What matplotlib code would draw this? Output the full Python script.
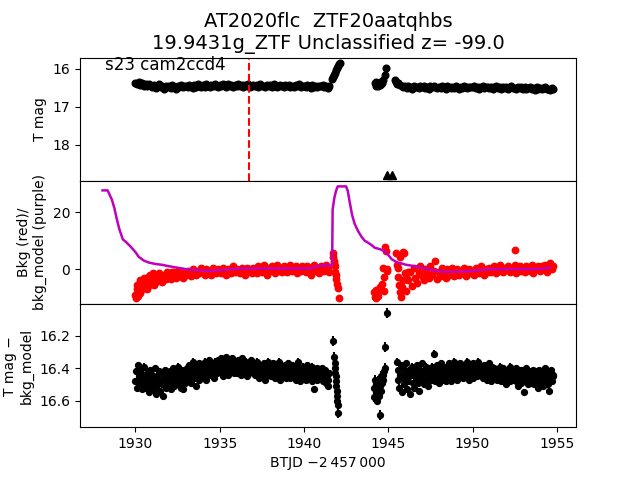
import numpy as np
import matplotlib
matplotlib.use("Agg")
import matplotlib.pyplot as plt

# ---------------- data ----------------
title_text = "AT2020flc  ZTF20aatqhbs\n19.9431g_ZTF Unclassified z= -99.0"
sector_text = "s23 cam2ccd4"
marker_time = 1936.75

# Top panel: T mag (regular cadence segments)
topA_start, topA_step = 1930.0, 0.1
topA_mag = [16.36,16.40,16.34,16.42,16.38,16.44,16.40,16.46,16.41,16.45,
            16.48,16.43,16.50,16.45,16.41,16.49,16.46,16.52,16.44,16.47,
            16.45,16.50,16.43,16.48,16.52,16.44,16.47,16.42,16.49,16.46,
            16.44,16.48,16.42,16.46,16.50,16.43,16.47,16.41,16.45,16.49,
            16.43,16.47,16.41,16.45,16.49,16.42,16.46,16.40,16.44,16.48,
            16.42,16.46,16.40,16.44,16.48,16.41,16.45,16.43,16.47,16.42,
            16.44,16.40,16.46,16.42,16.48,16.43,16.45,16.41,16.47,16.44,
            16.42,16.46,16.43,16.48,16.41,16.45,16.44,16.49,16.42,16.46,
            16.43,16.47,16.41,16.45,16.49,16.44,16.42,16.46,16.48,16.43,
            16.45,16.42,16.47,16.44,16.49,16.43,16.46,16.41,16.48,16.45,
            16.44,16.48,16.42,16.46,16.50,16.43,16.47,16.45,16.49,16.44,
            16.46,16.42,16.48,16.45,16.50,16.44]
topD_start, topD_step = 1945.6, 0.1
topD_mag = [16.36,16.42,16.45,16.48,
            16.44,16.50,16.46,16.48,16.52,16.45,16.49,16.47,16.51,16.46,
            16.48,16.45,16.50,16.47,16.52,16.46,16.49,16.44,16.48,16.51,
            16.47,16.50,16.45,16.49,16.52,16.46,16.48,16.51,16.47,16.50,
            16.46,16.49,16.52,16.47,16.50,16.45,16.48,16.51,16.47,16.49,
            16.48,16.45,16.50,16.47,16.52,16.48,16.46,16.50,16.49,16.47,
            16.50,16.47,16.52,16.48,16.46,16.51,16.49,16.53,16.47,16.50,
            16.48,16.52,16.49,16.46,16.51,16.50,16.53,16.48,16.51,16.49,
            16.52,16.49,16.54,16.50,16.47,16.52,16.51,16.55,16.49,16.53,
            16.50,16.54,16.51,16.48,16.53,16.52,16.56,16.50,16.54]
topB_t = [1941.68,1941.73,1941.78,1941.84,1941.90,1941.96,1942.02,1942.10,1942.15]
topB_mag = [16.27,16.22,16.16,16.10,16.04,15.98,15.93,15.88,15.85]
topC_t = [1944.20,1944.25,1944.30,1944.35,1944.40,1944.45,1944.50,1944.55,1944.60,
          1944.65,1944.70,1944.78,1944.85,1945.40,1945.45,1945.50,1945.55]
topC_mag = [16.38,16.44,16.35,16.41,16.46,16.37,16.43,16.40,16.33,
            16.38,16.28,16.16,15.98,16.30,16.34,16.40,16.38]
lim_t = [1944.9, 1945.25]
lim_mag = [18.8, 18.8]

# Middle panel: background (red points) and background model (purple line)
bkgA_start, bkgA_step = 1930.0, 0.1
bkgA = [-9.0,-5.5,-8.0,-4.0,-6.5,-3.0,-5.0,-7.0,-2.5,-4.5,
        -3.5,-5.5,-2.0,-4.0,-1.5,-3.0,-4.5,-2.0,-3.5,-1.0,
        -2.5,-3.5,-1.0,-2.0,-3.0,-0.5,-2.5,-1.5,-3.0,-1.0,
        -2.0,-0.5,-1.5,-2.5,0.0,-1.0,-2.0,-0.5,-1.5,0.5,
        -1.0,-2.0,0.0,-1.5,-0.5,-2.0,0.5,-1.0,-1.5,0.0,
        -0.5,-1.5,0.5,-1.0,-2.0,0.0,-0.5,-1.5,1.0,-1.0,
        0.0,-1.0,-1.5,0.5,-0.5,-2.0,0.5,-1.0,0.0,-1.5,
        0.5,-0.5,-1.5,1.0,0.0,-1.0,1.5,-0.5,-2.0,0.5,
        -0.5,1.0,0.0,-1.5,1.5,-0.5,0.5,-1.0,1.0,0.0,
        -1.0,0.5,1.5,-0.5,0.0,1.0,-1.5,0.5,-0.5,1.0,
        0.0,-1.0,1.0,0.5,-2.0,0.0,1.5,-0.5,0.5,-1.5,
        1.0,0.0,-0.5,1.5,0.5,-1.0]
bkgA_extra_t = [1930.05,1930.10,1930.15,1930.20,1930.25,1930.30,1930.35,1930.45,1930.55,1930.65,
                1930.75,1930.85,1930.95,1931.05,1931.25,1931.45,1931.65,1931.85,1932.10,1932.30]
bkgA_extra = [-10.0,-7.0,-9.5,-6.0,-8.5,-4.5,-7.5,-6.0,-5.0,-3.5,
              -6.0,-2.0,-4.0,-1.5,-4.5,-2.5,-3.0,-1.5,-2.0,-1.0]
bkgD_start, bkgD_step = 1946.2, 0.1
bkgD = [-4.0,-1.0,-6.0,0.5,-3.0,-5.0,-1.5,1.0,
        -2.5,-4.0,0.0,-1.5,-3.0,1.0,-2.0,-0.5,2.8,-3.5,
        -1.0,-2.5,0.5,-1.5,-3.0,0.0,-2.0,-1.0,0.5,-2.5,
        -1.5,0.0,-2.0,-0.5,-1.0,0.5,-2.5,-1.0,0.0,-1.5,
        -0.5,-2.0,0.5,-1.0,-1.5,1.0,-0.5,-2.0,0.0,-1.0,
        0.5,-1.0,-0.5,1.0,-1.5,0.0,1.5,-0.5,-1.0,0.5,
        0.0,1.0,-1.0,0.5,-0.5,1.5,-1.5,0.0,1.0,-0.5,
        0.5,-1.0,1.0,0.0,-0.5,1.5,-1.5,0.5,0.0,1.0,
        -0.5,1.0,0.0,1.5,-1.0,0.5,2.0,0.0,1.0]
bkgB_t = [1941.72,1941.75,1941.78,1941.80,1941.82,1941.85,1941.88,1941.90,1941.95,1942.00,1942.08]
bkgB = [5.5,4.3,3.0,2.0,1.0,-0.9,-2.1,-3.3,-5.4,-6.5,-10.3]
bkgC_t = [1944.15,1944.20,1944.25,1944.30,1944.35,1944.40,1944.45,1944.50,1944.60,1944.70,
          1944.72,1944.75,1944.80,1944.85,1944.90,1944.92,
          1945.45,1945.50,1945.55,1945.60,1945.65,1945.70,1945.72,1945.75,1945.80,1945.85,
          1945.90,1945.95,1946.00,1946.05,1946.10,1946.15,1952.50]
bkgC = [-8.0,-9.8,-7.5,-10.0,-8.8,-9.5,-7.0,-6.3,-5.3,0.4,
        -2.7,-7.7,7.8,6.5,0.0,-0.5,
        5.5,1.4,0.5,-2.7,-5.6,4.2,-7.9,-9.7,-6.2,6.1,
        -3.9,5.7,-1.5,-7.7,-3.6,-1.0,6.9]

model_t = [1928.05,1928.35,1928.60,1928.75,1928.90,1929.05,1929.25,1929.45,1929.70,1930.00,
           1930.20,1930.50,1930.80,1931.20,1931.60,1932.00,1932.50,1933.00,1933.50,1934.00,
           1934.50,1935.00,1935.50,1936.00,1937.00,1938.00,1939.00,1940.00,1940.50,1940.70,
           1941.00,1941.50,1941.67,1941.70,1941.80,1941.90,1942.00,1942.50,1942.60,1942.70,
           1942.85,1943.00,1943.20,1943.40,1943.60,1943.80,1944.00,1944.20,1944.40,1944.60,
           1944.80,1945.00,1945.20,1945.40,1945.60,1945.80,1946.00,1946.40,1946.80,1947.20,
           1947.60,1948.00,1948.40,1949.00,1949.50,1950.00,1950.50,1951.00,1951.50,1952.00,
           1953.00,1954.00,1954.30,1954.60]
model_v = [27.7,27.7,24.5,21.5,17.5,14.0,10.5,9.5,8.0,6.0,
           4.3,3.0,2.3,1.8,1.5,1.0,0.5,0.0,-0.3,-0.6,
           -0.6,-0.4,-0.1,0.1,0.2,0.2,0.2,0.2,0.3,1.0,
           1.2,1.3,1.3,21.0,25.0,27.5,29.1,29.1,27.5,24.0,
           19.2,16.0,13.5,11.5,10.0,9.3,8.5,7.5,7.2,6.8,
           6.2,5.0,3.5,2.8,2.2,2.0,1.6,1.2,0.7,0.2,
           -0.3,-0.8,-0.9,-0.9,-0.8,-0.6,-0.3,0.0,0.0,0.0,
           0.0,0.0,0.3,0.6]

# Bottom panel: T mag - bkg_model
botA_start, botA_step = 1930.0, 0.05
botA = [16.48,16.42,16.52,16.38,16.45,16.50,16.41,16.47,16.53,16.44,16.39,16.49,16.46,16.52,16.43,16.48,16.55,16.41,16.47,16.50,
        16.44,16.53,16.47,16.40,16.51,16.56,16.45,16.49,16.42,16.54,16.48,16.43,16.50,16.57,16.46,16.41,16.52,16.48,16.44,16.51,
        16.47,16.42,16.53,16.45,16.49,16.40,16.51,16.46,16.43,16.50,16.44,16.39,16.48,16.45,16.52,16.41,16.53,16.46,16.42,16.49,
        16.44,16.40,16.47,16.38,16.45,16.42,16.49,16.41,16.36,16.46,16.43,16.39,16.51,16.44,16.40,16.47,16.37,16.43,16.41,16.45,
        16.39,16.44,16.36,16.42,16.47,16.38,16.41,16.35,16.44,16.40,16.37,16.43,16.39,16.46,16.36,16.41,16.38,16.43,16.35,16.40,
        16.37,16.42,16.34,16.40,16.45,16.36,16.39,16.33,16.41,16.38,16.44,16.35,16.40,16.37,16.42,16.34,16.39,16.43,16.36,16.40,
        16.38,16.43,16.35,16.40,16.37,16.44,16.39,16.34,16.41,16.38,16.42,16.36,16.45,16.39,16.37,16.43,16.40,16.35,16.41,16.38,
        16.42,16.37,16.44,16.40,16.36,16.43,16.39,16.46,16.41,16.38,16.44,16.40,16.37,16.43,16.47,16.39,16.42,16.36,16.44,16.41,
        16.39,16.45,16.41,16.37,16.43,16.40,16.46,16.38,16.42,16.44,16.36,16.41,16.47,16.39,16.43,16.40,16.45,16.38,16.42,16.46,
        16.41,16.37,16.44,16.40,16.46,16.42,16.38,16.45,16.43,16.39,16.47,16.41,16.44,16.36,16.42,16.48,16.40,16.43,16.45,16.39,
        16.44,16.41,16.47,16.38,16.43,16.46,16.40,16.44,16.42,16.48,16.39,16.45,16.53,16.41,16.44,16.47,16.40,16.43,16.46,16.42,
        16.45,16.40,16.48,16.43,16.46,16.41,16.49,16.44,16.47,16.51,16.43]
botD_start, botD_step = 1945.5, 0.05
botD = [16.36,16.47,16.41,16.52,16.44,16.38,16.55,16.46,16.40,16.50,16.43,16.37,16.53,16.45,16.48,16.41,16.56,16.44,16.39,16.49,
        16.43,16.52,16.40,16.46,16.38,16.49,16.44,16.54,16.41,16.47,16.37,16.45,16.50,16.42,16.48,16.39,16.44,16.51,16.40,16.46,
        16.42,16.47,16.39,16.44,16.31,16.48,16.41,16.45,16.38,16.43,16.49,16.40,16.46,16.37,16.42,16.47,16.39,16.44,16.41,16.48,
        16.40,16.45,16.37,16.43,16.48,16.39,16.42,16.46,16.36,16.41,16.44,16.38,16.47,16.40,16.43,16.37,16.45,16.41,16.39,16.46,
        16.42,16.38,16.45,16.40,16.36,16.43,16.47,16.39,16.44,16.41,16.37,16.46,16.40,16.43,16.38,16.45,16.42,16.36,16.44,16.40,
        16.43,16.39,16.46,16.41,16.38,16.44,16.40,16.47,16.42,16.37,16.45,16.41,16.48,16.39,16.43,16.46,16.40,16.44,16.42,16.47,
        16.41,16.46,16.43,16.39,16.48,16.44,16.40,16.47,16.42,16.45,16.50,16.41,16.46,16.43,16.39,16.48,16.44,16.42,16.47,16.45,
        16.43,16.48,16.40,16.46,16.51,16.42,16.45,16.49,16.41,16.47,16.44,16.55,16.43,16.48,16.40,16.46,16.50,16.42,16.45,16.49,
        16.44,16.47,16.41,16.50,16.45,16.42,16.48,16.44,16.52,16.41,16.46,16.49,16.43,16.47,16.51,16.44,16.40,16.48,16.45,16.50,
        16.43,16.54,16.46,16.41,16.48,16.45,16.44]
bot_err = 0.02
botB_t = [1941.72,1941.80,1941.82,1941.84,1941.86,1941.88,1941.90,1941.92,1941.94,1941.96,1941.98,1942.00,1942.04]
botB = [16.23,16.33,16.37,16.40,16.43,16.45,16.48,16.51,16.54,16.57,16.60,16.63,16.68]
botC_t = [1944.15,1944.18,1944.22,1944.26,1944.30,1944.34,1944.38,1944.42,1944.46,1944.50,
          1944.54,1944.58,1944.62,1944.66,1944.70,1944.74,1944.78,1944.52,1944.82,1944.95]
botC = [16.52,16.58,16.47,16.55,16.50,16.60,16.53,16.48,16.57,16.51,
        16.45,16.54,16.49,16.44,16.47,16.42,16.40,16.69,16.27,16.06]
bot_err_gap = 0.03


def grid(start, step, vals):
    return start + step * np.arange(len(vals))


# ---------------- plot ----------------
fig, axes = plt.subplots(3, 1, sharex=True, figsize=(6.4, 4.8), dpi=100)
fig.subplots_adjust(hspace=0)
ax1, ax2, ax3 = axes

ms = 4.8
ax1.plot(grid(topA_start, topA_step, topA_mag), topA_mag, 'ko', ms=ms, ls='none')
ax1.plot(grid(topD_start, topD_step, topD_mag), topD_mag, 'ko', ms=ms, ls='none')
ax1.plot(topB_t, topB_mag, 'ko', ms=ms, ls='none')
ax1.plot(topC_t, topC_mag, 'ko', ms=ms, ls='none')
ax1.plot(lim_t, lim_mag, 'k^', ms=6, ls='none')
ax1.axvline(marker_time, color='r', ls='--', lw=1.5)
ax1.invert_yaxis()
ax1.set_ylabel("T mag")
ax1.text(0.05, 0.9, sector_text, transform=ax1.transAxes, fontsize=12)
ax1.set_title(title_text, fontsize=14)

rms = 4.6
ax2.plot(model_t, model_v, color='m', lw=1.8, zorder=3)
ax2.plot(grid(bkgA_start, bkgA_step, bkgA), bkgA, 'ro', ms=rms, ls='none')
ax2.plot(bkgA_extra_t, bkgA_extra, 'ro', ms=rms, ls='none')
ax2.plot(grid(bkgD_start, bkgD_step, bkgD), bkgD, 'ro', ms=rms, ls='none')
ax2.plot(bkgB_t, bkgB, 'ro', ms=rms, ls='none')
ax2.plot(bkgC_t, bkgC, 'ro', ms=rms, ls='none')
ax2.set_ylabel("Bkg (red)/\nbkg_model (purple)")

bms = 4.2
ax3.errorbar(grid(botA_start, botA_step, botA), botA, yerr=bot_err, fmt='ko', ms=bms)
ax3.errorbar(grid(botD_start, botD_step, botD), botD, yerr=bot_err, fmt='ko', ms=bms)
ax3.errorbar(botB_t, botB, yerr=bot_err_gap, fmt='ko', ms=bms)
ax3.errorbar(botC_t, botC, yerr=bot_err_gap, fmt='ko', ms=bms)
ax3.set_ylim(16.765, 16.003)
ax3.set_ylabel("T mag \u2212\nbkg_model")
ax3.set_xlabel("BTJD \u22122\u2009457\u2009000")

fig.savefig("out.png", dpi=100)
